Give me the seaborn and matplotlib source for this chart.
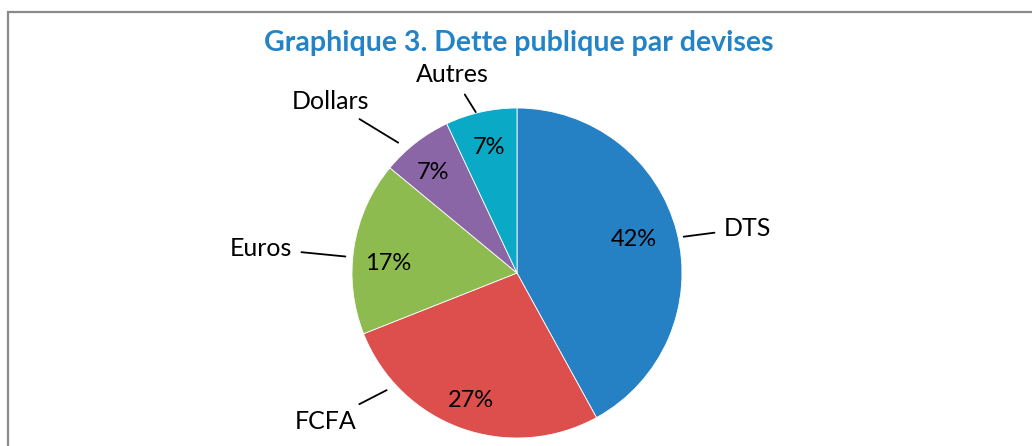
import matplotlib
matplotlib.use("Agg")
import matplotlib.pyplot as plt
import seaborn as sns
from matplotlib.patches import Rectangle

sns.set_theme(style="white")
plt.rcParams["font.family"] = ["Lato", "DejaVu Sans"]

# ── data ──
devises = ["DTS", "FCFA", "Euros", "Dollars", "Autres"]
parts = [42, 27, 17, 7, 7]
couleurs = ["#2581C4", "#DC4F4C", "#8DBB50", "#8B66A6", "#0AAAC6"]

# label layout in pie units: (text position, leader-line end near the pie)
LABEL_POS = {
    "DTS": ((1.25, 0.27), (1.01, 0.22), "left"),
    "FCFA": ((-1.16, -0.90), (-0.79, -0.71), "center"),
    "Euros": ((-1.36, 0.15), (-1.04, 0.10), "right"),
    "Dollars": ((-1.13, 1.04), (-0.72, 0.79), "center"),
    "Autres": ((-0.39, 1.20), (-0.25, 0.975), "center"),
}
# manual nudges of the percentage labels (pie units), as placed in the original
PCT_POS = {0: (0.71, 0.20), 1: (-0.28, -0.77), 2: (-0.78, 0.06), 3: (-0.51, 0.61)}

W, H = 1032, 446
fig = plt.figure(figsize=(W / 100, H / 100), dpi=100)

# gray chart frame (cropped on right / bottom)
fig.patches.append(Rectangle((8 / W, -0.1), 1.2, 1 - 12 / H + 0.1, transform=fig.transFigure,
                             fill=False, edgecolor="#8a8a8a", linewidth=1.6))

cx, cy, r = 517, 273, 165
ax = fig.add_axes([(cx - r) / W, (H - cy - r) / H, 2 * r / W, 2 * r / H])
wedges, _, pct_texts = ax.pie(
    parts,
    colors=couleurs,
    startangle=90,
    counterclock=False,
    autopct="%d%%",
    pctdistance=0.78,
    wedgeprops=dict(edgecolor="white", linewidth=0.6),
    textprops=dict(fontsize=17, color="black"),
)
for i, pos in PCT_POS.items():
    pct_texts[i].set_position(pos)
ax.set_xlim(-1, 1)
ax.set_ylim(-1, 1)
ax.set_aspect("auto")
ax.axis("off")

for name in devises:
    (tx, ty), (lx, ly), ha = LABEL_POS[name]
    ax.annotate(
        name, xy=(lx, ly), xytext=(tx, ty), ha=ha, va="center", fontsize=18,
        color="black", annotation_clip=False,
        arrowprops=dict(arrowstyle="-", color="black", lw=1.3, shrinkA=4, shrinkB=0),
    )

fig.text(519 / W, 1 - 43 / H, "Graphique 3. Dette publique par devises", ha="center", va="center",
         fontsize=20.5, fontweight="bold", color="#2383C6")

fig.savefig("out.png", dpi=100)
